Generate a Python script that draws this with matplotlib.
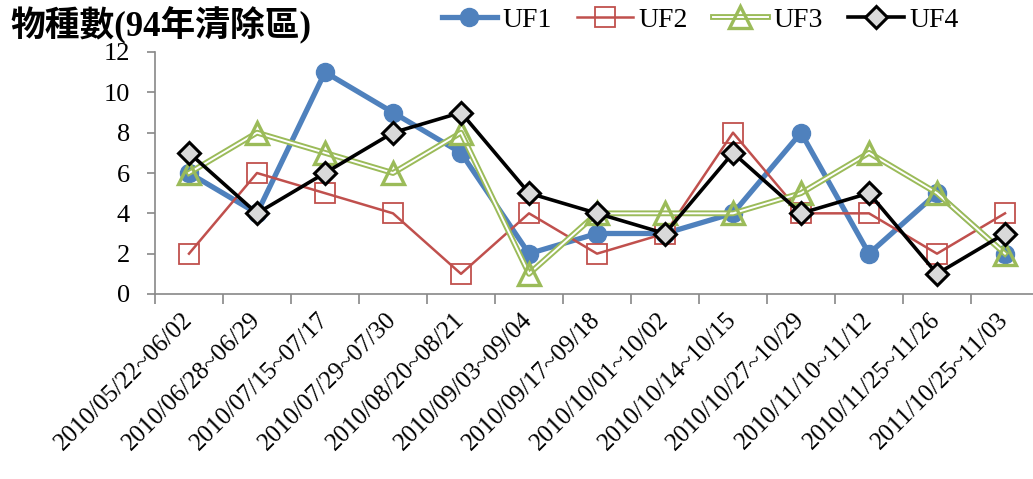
import numpy as np
import matplotlib.pyplot as plt
from matplotlib.legend_handler import HandlerTuple

periods = ['2010/05/22~06/02', '2010/06/28~06/29', '2010/07/15~07/17', '2010/07/29~07/30',
           '2010/08/20~08/21', '2010/09/03~09/04', '2010/09/17~09/18', '2010/10/01~10/02',
           '2010/10/14~10/15', '2010/10/27~10/29', '2010/11/10~11/12', '2010/11/25~11/26',
           '2011/10/25~11/03']
uf1 = [6, 4, 11, 9, 7, 2, 3, 3, 4, 8, 2, 5, 2]
uf2 = [2, 6, 5, 4, 1, 4, 2, 3, 8, 4, 4, 2, 4]
uf3 = [6, 8, 7, 6, 8, 1, 4, 4, 4, 5, 7, 5, 2]
uf4 = [7, 4, 6, 8, 9, 5, 4, 3, 7, 4, 5, 1, 3]

plt.rcParams['font.family'] = ['Liberation Serif', 'Noto Sans CJK TC']

fig = plt.figure(figsize=(10.33, 4.79), dpi=100)
W, H = 1033, 479
ax = fig.add_axes([155 / W, 185 / H, 884 / W, 242 / H])

x = np.arange(len(periods))
blue, red, green = '#4F81BD', '#C0504D', '#9BBB59'

l1, = ax.plot(x, uf1, color=blue, lw=3.8, marker='o', ms=13, zorder=3, label='UF1')
l2, = ax.plot(x, uf2, color=red, lw=1.8, marker='s', ms=15, mfc='none', mec=red,
              mew=1.3, zorder=4, label='UF2')

# double green line: wide green under a thin white core
g_out, = ax.plot(x, uf3, color=green, lw=4.2, zorder=5)
g_in, = ax.plot(x, uf3, color='white', lw=1.4, zorder=5)
g_mk, = ax.plot(x, uf3, ls='none', marker='^', ms=16, mfc='none', mec=green,
                mew=2.4, zorder=5)

l4, = ax.plot(x, uf4, color='black', lw=2.6, marker='D', ms=11, mfc='#D9D9D9',
              mec='black', mew=2.2, zorder=6, label='UF4')

ax.set_xlim(-0.5, len(periods) - 0.5)
ax.set_ylim(0, 12)
ax.set_yticks(range(0, 13, 2))
ax.set_xticks(np.arange(-0.5, len(periods), 1.0))
ax.set_xticklabels([])
ax.set_xticks(x, minor=True)
ax.set_xticklabels(periods, minor=True, rotation=45, ha='right', va='center',
                   rotation_mode='anchor', fontsize=18)
ax.tick_params(axis='x', which='minor', length=0, pad=16)
ax.tick_params(axis='x', which='major', length=7, color='#888888', width=1.2)
ax.tick_params(axis='y', length=6, color='#888888', width=1.2, labelsize=19, pad=12)

for s in ['top', 'right']:
    ax.spines[s].set_visible(False)
for s in ['left', 'bottom']:
    ax.spines[s].set_color('#888888')
    ax.spines[s].set_linewidth(1.2)

fig.text(10 / W, 1 - 36 / H, '物種數(94年清除區)', fontsize=25, fontweight='bold',
         ha='left', va='baseline')

handles = [l1, l2, (g_out, g_in, g_mk), l4]
fig.legend(handles, ['UF1', 'UF2', 'UF3', 'UF4'], loc='center',
           bbox_to_anchor=(700 / W, 1 - 20 / H), ncol=4, frameon=False, fontsize=20,
           handlelength=2.0, handletextpad=0.2, columnspacing=0.9,
           handler_map={tuple: HandlerTuple(ndivide=1)})

fig.savefig('out.png', dpi=100)
